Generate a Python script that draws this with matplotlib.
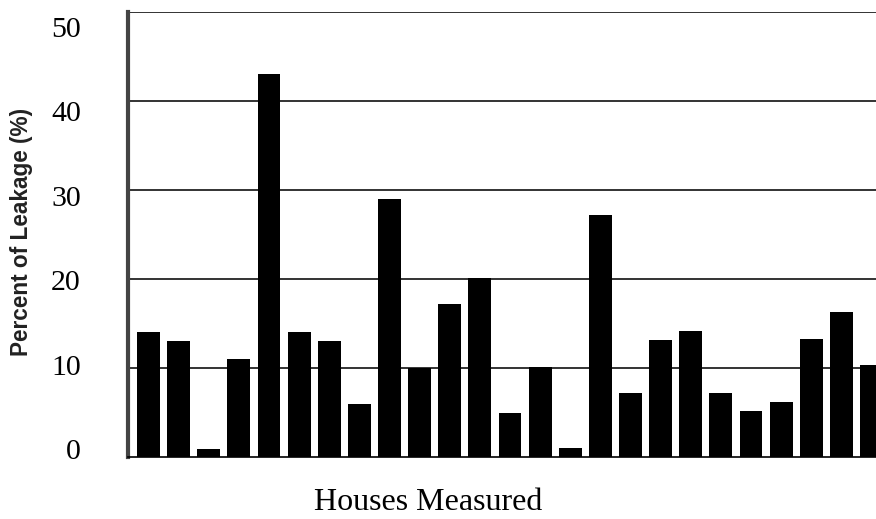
import matplotlib
matplotlib.use("Agg")
from matplotlib import pyplot as plt

# porcentaje de fuga por casa
casas = list(range(1, 26))
fuga = [14.0, 13.0, 0.9, 11.0, 43.0, 14.0, 13.0, 6.0, 29.0, 10.0,
        17.2, 20.1, 5.0, 10.1, 1.0, 27.2, 7.2, 13.1, 14.2, 7.2,
        5.2, 6.2, 13.3, 16.3, 10.3]
ticks_y = [0, 10, 20, 30, 40, 50]

W, H = 876, 519
fig = plt.figure(figsize=(W / 100, H / 100), dpi=100)
ax = fig.add_axes([128 / W, 62 / H, 1 - 128 / W, 445 / H])

ax.bar(casas, fuga, width=0.76, color="black", zorder=3)

for v in ticks_y[1:]:
    ax.axhline(v, color="#333333", linewidth=1.4, zorder=1)

ax.set_xlim(0.32, 25.15)
ax.set_ylim(0, 50)
ax.set_yticks([])
ax.set_xticks([])

# en el original las etiquetas del eje y estan un poco corridas respecto a las lineas
ax2 = ax.twinx()
ax2.set_ylim(-0.95, 51.78)
ax2.yaxis.set_ticks_position("left")
ax2.set_yticks(ticks_y)
ax2.set_yticklabels([str(t) for t in ticks_y], family="Liberation Serif", fontsize=21.5)
ax2.tick_params(axis="y", length=0, pad=34)
for s in ["top", "right", "left", "bottom"]:
    ax2.spines[s].set_visible(False)

for s in ["top", "right"]:
    ax.spines[s].set_visible(False)
ax.spines["left"].set_linewidth(3)
ax.spines["left"].set_color("#444444")
ax.spines["bottom"].set_linewidth(1.2)

fig.text(22 / W, 1 - 232 / H, "Percent of Leakage (%)", family="Liberation Sans",
         fontweight="bold", fontsize=16.3, rotation=90, ha="center", va="center",
         color="#222222")
fig.text(428 / W, 2 / H, "Houses Measured", family="Liberation Serif", fontsize=23,
         ha="center", va="bottom")

fig.savefig("out.png", dpi=100)
